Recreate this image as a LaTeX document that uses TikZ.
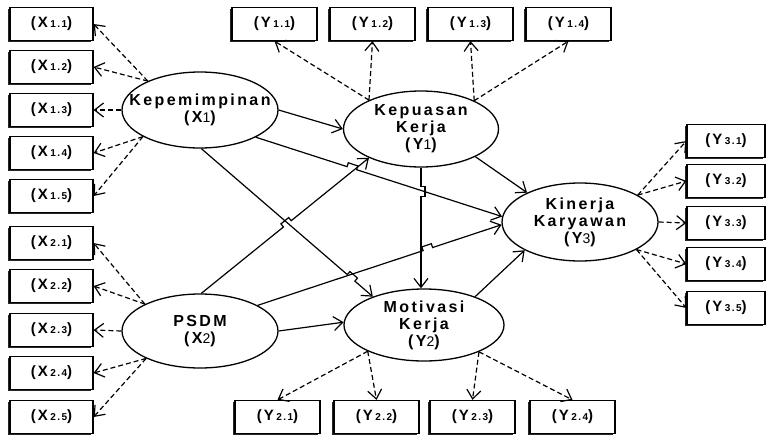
\documentclass[tikz,border=0pt]{standalone}
\usepackage{fontspec}
\setmainfont{Liberation Sans}
\newfontfamily\lblfont[LetterSpace=15]{Liberation Sans}
\newfontfamily\boxfont[LetterSpace=14]{Liberation Sans}
\usetikzlibrary{arrows.meta,shapes.geometric,calc,shadows}

\newcommand{\hopline}[3]{%
  \path ($(#1)!#3!(#2)$) coordinate (hc);
  \path ($(hc)!5pt!(#1)$) coordinate (ha) ($(hc)!5pt!(#2)$) coordinate (hb);
  \path ($(ha)!4pt!90:(#2)$) coordinate (hau) ($(hb)!4pt!-90:(#1)$) coordinate (hbu);
  \draw[reg] (#1) -- (ha) -- (hau) -- (hbu) -- (hb) -- (#2);}
\newcommand{\indlbl}[2]{(#1\,{\fontsize{10}{10}\selectfont #2})}
\newcommand{\latsub}[1]{{\mdseries\fontsize{14}{17}\selectfont #1}}

\begin{document}
\begin{tikzpicture}[x=1pt,y=-1pt,
  latent/.style={ellipse, draw, line width=1.3pt, inner sep=0pt, fill=white},
  lattext/.style={align=center, inner sep=0pt, font=\lblfont\bfseries\fontsize{16}{17}\selectfont},
  ind/.style={draw, fill=white, line width=1.2pt, minimum height=33pt, inner sep=0pt,
    drop shadow={shadow xshift=-1.6pt, shadow yshift=-1.6pt, fill=black!85, opacity=1},
    font=\boxfont\bfseries\fontsize{15}{15}\selectfont},
  xind/.style={ind, minimum width=83pt},
  yind/.style={ind, minimum width=85pt},
  zind/.style={ind, minimum width=78pt},
  reg/.style={line width=1.2pt, -{Straight Barb[length=9pt,width=14pt,line width=1.2pt]}},
  refl/.style={line width=1.2pt, dash pattern=on 5pt off 3pt, -{Straight Barb[length=9pt,width=14pt,line width=1.2pt]}}
]
\fill[white] (0,0) rectangle (766,434);
\useasboundingbox (0,0) rectangle (766,434);

% latent variables
\node[latent, minimum width=156pt, minimum height=76pt,
  label={[lattext]center:{Kepemimpinan\\(X\latsub{1})}}] (kep) at (200,110) {};
\node[latent, minimum width=156pt, minimum height=74pt,
  label={[lattext]center:{PSDM\\(X\latsub{2})}}] (psdm) at (200,331) {};
\node[latent, minimum width=155pt, minimum height=76pt,
  label={[lattext]center:{Kepuasan\\Kerja\\(Y\latsub{1})}}] (y1) at (421,129) {};
\node[latent, minimum width=160pt, minimum height=72pt,
  label={[lattext]center:{Motivasi\\Kerja\\(Y\latsub{2})}}] (y2) at (424,325) {};
\node[latent, minimum width=156pt, minimum height=78pt,
  label={[lattext]center:{Kinerja\\Karyawan\\(Y\latsub{3})}}] (y3) at (580,222) {};

% indicators X1
\node[xind] (x11) at (51.5,24) {\indlbl{X}{1.1}};
\node[xind] (x12) at (51.5,67) {\indlbl{X}{1.2}};
\node[xind] (x13) at (51.5,110) {\indlbl{X}{1.3}};
\node[xind] (x14) at (51.5,153) {\indlbl{X}{1.4}};
\node[xind] (x15) at (51.5,196) {\indlbl{X}{1.5}};
% indicators X2
\node[xind] (x21) at (51.5,243) {\indlbl{X}{2.1}};
\node[xind] (x22) at (51.5,286) {\indlbl{X}{2.2}};
\node[xind] (x23) at (51.5,330) {\indlbl{X}{2.3}};
\node[xind] (x24) at (51.5,373) {\indlbl{X}{2.4}};
\node[xind] (x25) at (51.5,417) {\indlbl{X}{2.5}};
% indicators Y1
\node[yind] (y11) at (274.5,24) {\indlbl{Y}{1.1}};
\node[yind] (y12) at (372.5,24) {\indlbl{Y}{1.2}};
\node[yind] (y13) at (470.5,24) {\indlbl{Y}{1.3}};
\node[yind] (y14) at (568.5,24) {\indlbl{Y}{1.4}};
% indicators Y2
\node[yind] (y21) at (277.5,417) {\indlbl{Y}{2.1}};
\node[yind] (y22) at (376.5,417) {\indlbl{Y}{2.2}};
\node[yind] (y23) at (472.5,417) {\indlbl{Y}{2.3}};
\node[yind] (y24) at (572.5,417) {\indlbl{Y}{2.4}};
% indicators Y3
\node[zind] (y31) at (726,141) {\indlbl{Y}{3.1}};
\node[zind] (y32) at (726,181) {\indlbl{Y}{3.2}};
\node[zind] (y33) at (726,223) {\indlbl{Y}{3.3}};
\node[zind] (y34) at (726,264) {\indlbl{Y}{3.4}};
\node[zind] (y35) at (726,308) {\indlbl{Y}{3.5}};

% reflective (dashed) links
\draw[refl] (kep.151) -- (x11.east);
\draw[refl] (kep.151) -- (x12.east);
\draw[refl] (kep.west) -- (x13.east);
\draw[refl] (kep.205) -- (x14.east);
\draw[refl] (kep.205) -- (x15.east);
\draw[refl] (psdm.154) -- (x21.east);
\draw[refl] (psdm.154) -- (x22.east);
\draw[refl] (psdm.west) -- (x23.east);
\draw[refl] (psdm.207) -- (x24.east);
\draw[refl] (psdm.207) -- (x25.east);
\draw[refl] (y1.151) -- (y11.south);
\draw[refl] (y1.151) -- (y12.south);
\draw[refl] (y1.28) -- (y13.south);
\draw[refl] (y1.28) -- (y14.south);
\draw[refl] (y2.205) -- (y21.north);
\draw[refl] (y2.205) -- (y22.north);
\draw[refl] (y2.334) -- (y23.north);
\draw[refl] (y2.334) -- (y24.north);
\draw[refl] (y3.25) -- (y31.west);
\draw[refl] (y3.25) -- (y32.west);
\draw[refl] (y3.east) -- (y33.west);
\draw[refl] (y3.334) -- (y34.west);
\draw[refl] (y3.334) -- (y35.west);

% structural paths
\draw[reg] (kep.east) -- (y1.west);
\hopline{kep.334}{y3.176}{0.39}
\hopline{kep.272}{y2.151}{0.873}
\hopline{psdm.88}{y1.209}{0.513}
\hopline{psdm.24}{y3.182}{0.698}
\draw[reg] (psdm.east) -- (y2.178);
\hopline{y1.south}{y1.south |- y2.north}{0.197}
\draw[reg] (y1.333) -- (y3.151);
\draw[reg] (y2.29) -- (y3.207);
\end{tikzpicture}
\end{document}
